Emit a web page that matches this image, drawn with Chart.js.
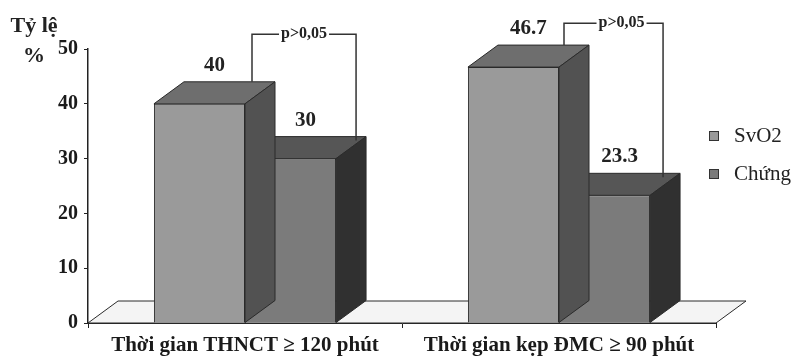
<!DOCTYPE html>
<html>
<head>
<meta charset="utf-8">
<style>
  html, body { margin: 0; padding: 0; background: #fff; }
  #wrap { width: 806px; height: 357px; }
</style>
</head>
<body>
<div id="wrap"><canvas id="chart" width="806" height="357"></canvas></div>
<script src="https://cdn.jsdelivr.net/npm/chart.js"></script>
<script>
// data
const categories = ['Thời gian THNCT ≥ 120 phút', 'Thời gian kẹp ĐMC ≥ 90 phút'];
const seriesNames = ['SvO2', 'Chứng'];
const svo2Values = [40, 46.7];
const chungValues = [30, 23.3];
const valueLabels = [['40', '46.7'], ['30', '23.3']];
const yTicks = [0, 10, 20, 30, 40, 50];
const pLabels = ['p>0,05', 'p>0,05'];
const bracketLevels = [52.7, 54.7]; // height of the p-value brackets, in axis units

const SERIF = '"Liberation Serif", "DejaVu Serif", serif';
const DX = 30, DY = 22; // depth of the 3D look

const faceColors = [
  { front: '#9a9a9a', top: '#6e6e6e', side: '#525252' },
  { front: '#7b7b7b', top: '#565656', side: '#303030' }
];

function poly(ctx, pts, fill) {
  ctx.beginPath();
  ctx.moveTo(pts[0][0], pts[0][1]);
  for (let i = 1; i < pts.length; i++) ctx.lineTo(pts[i][0], pts[i][1]);
  ctx.closePath();
  ctx.fillStyle = fill;
  ctx.fill();
  ctx.strokeStyle = '#2a2a2a';
  ctx.lineWidth = 1;
  ctx.stroke();
}

const threeD = {
  id: 'threeD',
  beforeDatasetsDraw(chart) {
    const { ctx, chartArea: a } = chart;
    ctx.save();
    poly(ctx, [[a.left, a.bottom], [a.left + DX, a.bottom - DY], [a.right + DX, a.bottom - DY], [a.right, a.bottom]], '#f4f4f4');
    ctx.restore();
  },
  afterDatasetDraw(chart, args) {
    const { ctx } = chart;
    const col = faceColors[args.index];
    ctx.save();
    args.meta.data.forEach((bar, i) => {
      const l = bar.x - bar.width / 2, r = bar.x + bar.width / 2;
      const t = bar.y, b = bar.base;
      poly(ctx, [[l, t], [l + DX, t - DY], [r + DX, t - DY], [r, t]], col.top);
      poly(ctx, [[r, t], [r + DX, t - DY], [r + DX, b - DY], [r, b]], col.side);
      // value label
      ctx.fillStyle = '#222';
      ctx.font = 'bold 21px ' + SERIF;
      ctx.textAlign = 'center';
      ctx.textBaseline = 'bottom';
      ctx.fillText(valueLabels[args.index][i], bar.x + DX / 2, t - DY - 6);
    });
    ctx.restore();
  },
  afterDraw(chart) {
    const { ctx } = chart;
    const y = chart.scales.y;
    const m0 = chart.getDatasetMeta(0).data;
    const m1 = chart.getDatasetMeta(1).data;
    ctx.save();
    // p-value brackets
    const lOff = [7, 5], rOff = [20, 13];
    m0.forEach((b0, i) => {
      const b1 = m1[i];
      const xl = b0.x + b0.width / 2 + lOff[i];
      const xr = b1.x + b1.width / 2 + rOff[i];
      const yTop = y.getPixelForValue(bracketLevels[i]);
      ctx.strokeStyle = '#333';
      ctx.lineWidth = 1.5;
      ctx.beginPath();
      ctx.moveTo(xl, b0.y - DY);
      ctx.lineTo(xl, yTop);
      ctx.lineTo(xr, yTop);
      ctx.lineTo(xr, b1.y - DY + 4);
      ctx.stroke();
      ctx.font = 'bold 16px ' + SERIF;
      const tx = (xl + xr) / 2 + (i === 1 ? 8 : 0);
      const w = ctx.measureText(pLabels[i]).width;
      ctx.fillStyle = '#fff';
      ctx.fillRect(tx - w / 2 - 2, yTop - 6, w + 4, 12);
      ctx.fillStyle = '#222';
      ctx.textAlign = 'center';
      ctx.textBaseline = 'middle';
      ctx.fillText(pLabels[i], tx, yTop);
    });
    // y axis title
    ctx.font = 'bold 22px ' + SERIF;
    ctx.fillStyle = '#222';
    ctx.textAlign = 'center';
    ctx.textBaseline = 'alphabetic';
    ctx.fillText('Tỷ lệ', 34, 32);
    ctx.font = 'bold 22px ' + SERIF;
    ctx.fillText('%', 34, 62);
    // legend
    chart.data.datasets.forEach((ds, i) => {
      const ly = 136 + i * 38;
      ctx.fillStyle = ds.backgroundColor;
      ctx.strokeStyle = '#333';
      ctx.lineWidth = 1;
      ctx.fillRect(709, ly - 5, 10, 10);
      ctx.strokeRect(709.5, ly - 4.5, 9, 9);
      ctx.fillStyle = '#222';
      ctx.font = '21px ' + SERIF;
      ctx.textAlign = 'left';
      ctx.textBaseline = 'middle';
      ctx.fillText(ds.label, 734, ly);
    });
    ctx.restore();
  }
};

new Chart(document.getElementById('chart'), {
  type: 'bar',
  data: {
    labels: categories,
    datasets: [
      { label: seriesNames[0], data: svo2Values, backgroundColor: faceColors[0].front, borderColor: '#2a2a2a', borderWidth: 1 },
      { label: seriesNames[1], data: chungValues, backgroundColor: faceColors[1].front, borderColor: '#2a2a2a', borderWidth: 1 }
    ]
  },
  options: {
    responsive: false,
    animation: false,
    events: [],
    layout: { padding: { top: 49, right: 90, left: 0, bottom: 0 } },
    categoryPercentage: 0.58,
    barPercentage: 1,
    plugins: { legend: { display: false }, tooltip: { enabled: false } },
    scales: {
      x: {
        afterFit(s) { s.height = 34; },
        grid: { offset: true, drawOnChartArea: false, tickLength: 5, color: '#222' },
        border: { color: '#222', width: 1 },
        ticks: { color: '#1a1a1a', padding: 5, font: { family: SERIF, size: 21, weight: 'bold' } }
      },
      y: {
        min: 0,
        max: 50,
        afterFit(s) { s.width = 88; },
        afterBuildTicks(s) { s.ticks = yTicks.map(v => ({ value: v })); },
        grid: { drawOnChartArea: false, tickLength: 4, color: '#222' },
        border: { color: '#222', width: 1.5 },
        ticks: { color: '#1a1a1a', padding: 6, font: { family: SERIF, size: 20, weight: 'bold' } }
      }
    }
  },
  plugins: [threeD]
});
</script>
</body>
</html>
